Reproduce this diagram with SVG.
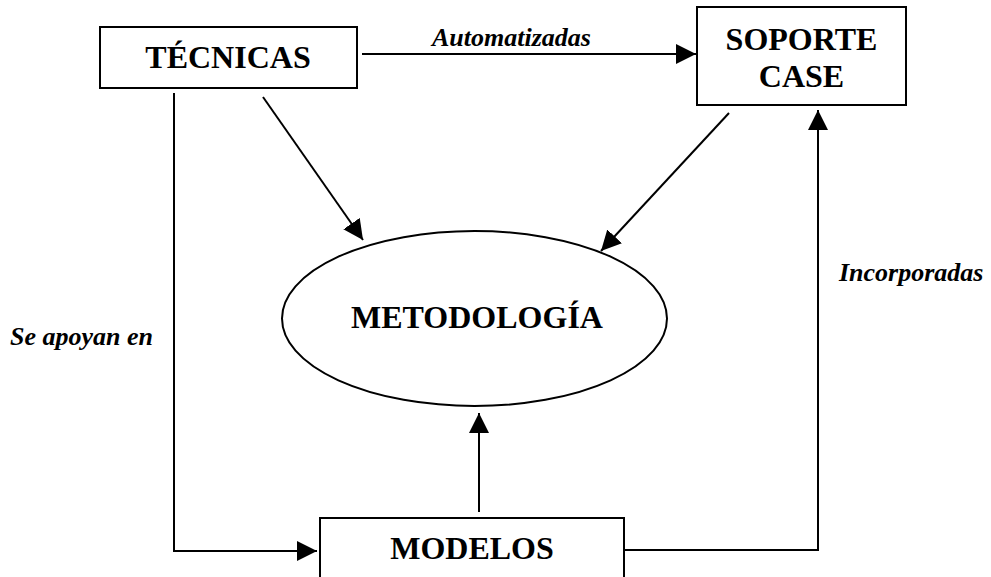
<svg xmlns="http://www.w3.org/2000/svg" width="991" height="577" viewBox="0 0 991 577">
<style>
.box{fill:#fff;stroke:#000;stroke-width:2}
.node{font-family:"Liberation Serif","Times New Roman",serif;font-weight:bold;font-size:32px;fill:#000;text-anchor:middle}
.lbl{font-family:"Liberation Serif","Times New Roman",serif;font-weight:bold;font-style:italic;font-size:26px;fill:#000}
.edge{fill:none;stroke:#000;stroke-width:2}
</style>
<defs>
<marker id="ah" markerUnits="userSpaceOnUse" markerWidth="20" markerHeight="20" viewBox="0 0 20 20" refX="20" refY="10" orient="auto">
<path d="M0,0 L20,10 L0,20 Z" fill="#000"/>
</marker>
</defs>
<rect width="991" height="577" fill="#fff"/>
<g id="connectors">
<line class="edge" x1="362" y1="54" x2="696" y2="54" marker-end="url(#ah)"/>
<line class="edge" x1="263" y1="97" x2="363" y2="240" marker-end="url(#ah)"/>
<line class="edge" x1="729" y1="113" x2="601" y2="251" marker-end="url(#ah)"/>
<polyline class="edge" points="174,93 174,551 317,551" marker-end="url(#ah)"/>
<line class="edge" x1="479" y1="512" x2="479" y2="413" marker-end="url(#ah)"/>
<polyline class="edge" points="624,550 818,550 818,110" marker-end="url(#ah)"/>
<text class="lbl" x="432" y="46">Automatizadas</text>
<text class="lbl" x="10" y="345">Se apoyan en</text>
<text class="lbl" x="839" y="281">Incorporadas</text>
</g>
<g id="tecnicas">
<rect class="box" x="100" y="27" width="257" height="61"/>
<text class="node" x="228" y="68">TÉCNICAS</text>
</g>
<g id="soporte">
<rect class="box" x="697" y="7" width="209" height="98"/>
<text class="node" x="801.5" y="50">SOPORTE</text>
<text class="node" x="801.5" y="87">CASE</text>
</g>
<g id="metodologia">
<ellipse class="box" cx="474.5" cy="318.5" rx="192.5" ry="87.5"/>
<text class="node" x="477" y="328">METODOLOGÍA</text>
</g>
<g id="modelos">
<rect class="box" x="320" y="518" width="304" height="80"/>
<text class="node" x="472" y="559">MODELOS</text>
</g>
</svg>
